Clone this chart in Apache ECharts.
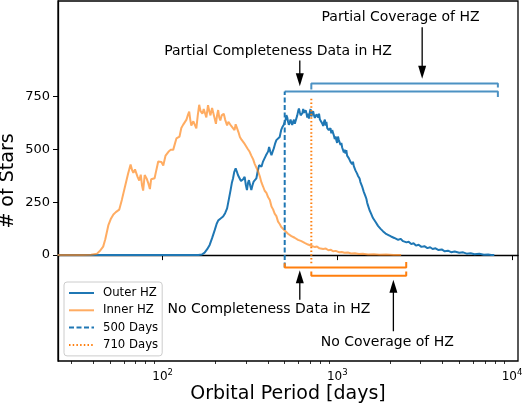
<!DOCTYPE html>
<html>
<head>
<meta charset="utf-8">
<script src="https://cdn.jsdelivr.net/npm/echarts@6/dist/echarts.min.js"></script>
<style>
  html, body { margin: 0; padding: 0; background: #fff; }
  #chart { width: 525px; height: 407px; }
</style>
</head>
<body>
<div id="chart"></div>
<script>
// habitable zone period distribution, [period in days, # of stars]
const outerHZ = [
  [25, 0], [50, 0], [100, 0], [150, 0], [160, 1], [168, 3], [174, 12], [180, 28], [186, 48],
  [192, 80], [199, 119], [204, 148], [208, 163], [214, 172], [222, 182], [228, 198], [234, 221],
  [240, 268], [245, 307], [249, 340], [253, 362], [257, 392], [262, 410], [266, 395], [270, 378],
  [274, 368], [277, 362], [281, 350], [286, 347], [290, 360], [295, 370], [299, 335], [304, 307],
  [308, 340], [312, 354], [317, 330], [322, 307], [327, 330], [332, 347], [338, 355], [344, 362],
  [350, 395], [357, 425], [362, 430], [368, 417], [375, 440], [384, 449], [390, 470], [396, 464],
  [402, 490], [407, 511], [413, 490], [420, 472], [427, 490], [433, 504], [440, 525], [448, 543],
  [457, 550], [468, 558], [477, 590], [485, 605], [493, 615], [500, 621], [506, 640], [511, 661],
  [517, 650], [522, 632], [528, 615], [534, 621], [540, 640], [546, 625], [552, 615], [558, 629],
  [565, 640], [571, 620], [577, 628], [583, 621], [590, 660], [597, 680], [603, 692], [610, 675],
  [617, 660], [624, 653], [631, 670], [638, 690], [645, 672], [652, 668], [659, 684], [666, 670],
  [673, 650], [680, 668], [688, 645], [695, 672], [703, 690], [711, 655], [719, 668], [727, 680],
  [736, 660], [744, 648], [752, 645], [760, 665], [769, 672], [778, 650], [786, 668], [795, 640],
  [804, 632], [812, 645], [821, 621], [830, 610], [840, 630], [849, 640], [858, 612], [866, 629],
  [876, 600], [885, 608], [894, 590], [904, 582], [914, 600], [924, 575], [935, 590], [945, 590],
  [956, 565], [967, 548], [978, 560], [987, 543], [998, 530], [1009, 560], [1020, 545], [1031, 551],
  [1043, 520], [1055, 530], [1066, 508], [1077, 504], [1090, 485], [1102, 498], [1114, 480],
  [1126, 496], [1138, 470], [1151, 478], [1163, 458], [1176, 457], [1190, 440], [1203, 448],
  [1215, 430], [1229, 441], [1243, 420], [1256, 415], [1270, 400], [1284, 402], [1298, 385],
  [1312, 375], [1326, 370], [1341, 362], [1356, 345], [1371, 340], [1386, 325], [1401, 323],
  [1416, 300], [1432, 295], [1452, 276], [1468, 265], [1480, 250], [1495, 237], [1510, 228],
  [1530, 212], [1545, 207], [1561, 196], [1580, 188], [1600, 175], [1631, 168], [1660, 155],
  [1690, 150], [1710, 138], [1740, 137], [1770, 124], [1800, 123], [1830, 112], [1861, 115],
  [1890, 102], [1920, 107], [1950, 96], [1985, 100], [2030, 88], [2080, 92], [2120, 81],
  [2170, 84], [2230, 72], [2300, 77], [2380, 66], [2420, 70], [2490, 60], [2560, 63], [2650, 52],
  [2730, 56], [2820, 45], [2920, 49], [3030, 39], [3150, 42], [3280, 33], [3400, 37], [3513, 29],
  [3650, 32], [3800, 24], [3960, 27], [4120, 18], [4300, 21], [4480, 14], [4700, 17], [4988, 11],
  [5250, 13], [5500, 7], [5800, 9], [6100, 4], [6500, 6], [6900, 2], [7300, 3], [7600, 1], [7920, 1]
];

const innerHZ = [
  [25, 0], [30, 0], [35, 1], [39, 2], [42, 6], [44, 22], [45.7, 40], [47, 75], [48.9, 140],
  [50.5, 170], [52.3, 192], [54, 203], [56.5, 215], [58.5, 262], [61, 325], [63.5, 385],
  [65.6, 428], [67, 400], [68, 388], [69.5, 405], [70.9, 398], [72, 368], [73.5, 352], [75, 380],
  [76.2, 330], [77.4, 305], [79, 378], [81, 362], [82.8, 340], [84.6, 312], [86, 358], [88, 362],
  [90, 363], [92, 400], [94.4, 442], [96.5, 448], [98.5, 440], [100.9, 423], [104, 470],
  [108, 488], [111, 497], [115, 497], [118, 530], [120, 551], [125, 560], [128, 600], [131, 615],
  [134, 612], [137, 640], [140, 665], [142, 678], [144, 640], [146, 612], [150, 632], [153, 628],
  [156, 598], [159, 660], [162, 710], [165, 680], [169, 668], [172, 690], [174, 684], [178, 650],
  [182, 708], [185, 680], [188, 660], [192, 695], [195, 690], [198, 650], [202, 620], [205, 660],
  [208, 685], [211, 650], [214, 636], [218, 660], [224, 668], [228, 640], [234, 612], [238, 630],
  [242, 637], [247, 610], [253, 604], [258, 590], [262, 618], [267, 620], [272, 580], [277, 558],
  [283, 545], [289, 540], [295, 525], [302, 518], [308, 500], [315, 488], [322, 470], [330, 452],
  [337, 430], [344, 426], [352, 396], [360, 372], [368, 343], [376, 324], [384, 304], [393, 294],
  [402, 273], [411, 260], [420, 230], [429, 216], [438, 196], [448, 184], [458, 158], [468, 147],
  [478, 133], [489, 129], [500, 116], [511, 112], [522, 101], [534, 98], [546, 90], [558, 89],
  [570, 82], [583, 80], [596, 72], [610, 76], [623, 66], [637, 64], [650, 58], [664, 60],
  [680, 50], [695, 53], [710, 44], [725, 47], [745, 38], [765, 41], [790, 32], [810, 35],
  [830, 29], [860, 31], [890, 23], [920, 25], [945, 18], [980, 20], [1020, 14], [1060, 15],
  [1100, 11], [1150, 12], [1200, 8], [1260, 9], [1330, 5], [1400, 6], [1500, 3], [1620, 4],
  [1740, 2], [1900, 3], [2100, 1], [2320, 1]
];

// vertical markers: [period, bottom, top]
const days500 = [500, -58, 773];
const days710 = [710, -38, 747];

// bracket outlines, [period, # of stars]
const bracketBlueLow = [[500, 773], [8300, 773], [8300, 747]];
const bracketBlueHigh = [[710, 782], [710, 810], [8300, 810], [8300, 791]];
const bracketOrangeHigh = [[500, -38], [500, -58], [2480, -58], [2480, -33]];
const bracketOrangeLow = [[710, -77], [710, -97], [2480, -97], [2480, -77]];

// annotation texts and arrows: [period, y]
const noteLabels = ['Partial Coverage of HZ', 'Partial Completeness Data in HZ',
  'No Completeness Data in HZ', 'No Coverage of HZ'];
const notePos = [[2302, 1123], [458, 962], [406, -258], [1932, -414]];
// [period, tail, tip]
const arrows = [[610, 919, 797], [3060, 1076, 833], [610, -211, -72], [2094, -360, -116]];

const yTicks = [0, 250, 500, 750];
const xTicks = [2, 3, 4];

const FONT = 'DejaVu Sans';
const BLUE = '#1f77b4';
const ORANGE = '#ff7f0e';
const lg = (v) => Math.log10(v);
const toXY = (pts) => pts.map((p) => [lg(p[0]), p[1]]);

const xMin = lg(25.2);
const xMax = lg(10820);

// minor log ticks
const minorTicks = [];
for (let e = 1; e <= 3; e++) {
  for (let k = 2; k <= 9; k++) {
    const v = lg(k * Math.pow(10, e));
    if (v > xMin && v < xMax) minorTicks.push(v);
  }
}

const sup = { 2: '2', 3: '3', 4: '4' };

const chart = echarts.init(document.getElementById('chart'));

const lineSeries = (name, pts, color, width, type) => ({
  name: name,
  type: 'line',
  data: toXY(pts),
  symbol: 'none',
  silent: true,
  lineStyle: { color: color, width: width, type: type || 'solid' },
  itemStyle: { color: color },
});

const arrowSeries = [];
arrows.forEach((a) => {
  const down = a[2] < a[1];
  const shaftEnd = down ? a[2] + 40 : a[2] - 40;
  arrowSeries.push(lineSeries('arrow', [[a[0], a[1]], [a[0], shaftEnd]], '#000', 1.3));
  arrowSeries.push({
    type: 'scatter',
    silent: true,
    data: [[lg(a[0]), a[2]]],
    symbol: down ? 'path://M0,0L8,0L4,13Z' : 'path://M4,0L8,13L0,13Z',
    symbolSize: [8, 13],
    symbolOffset: [0, down ? '-50%' : '50%'],
    itemStyle: { color: '#000', opacity: 1 },
  });
});

const option = {
  animation: false,
  grid: {
    left: 58, right: 7, top: 1, bottom: 46,
    outerBoundsMode: 'none',
    containLabel: false,
    show: true, borderColor: '#000', borderWidth: 1.3,
  },
  legend: {
    data: ['Outer HZ', 'Inner HZ', '500 Days', '710 Days'],
    orient: 'vertical',
    left: 64,
    top: 282,
    itemWidth: 25,
    itemHeight: 10,
    itemGap: 3.3,
    padding: [4, 4, 4, 4],
    borderColor: '#cccccc',
    borderWidth: 1,
    borderRadius: 3,
    backgroundColor: 'rgba(255,255,255,0.8)',
    itemStyle: { opacity: 0 },
    textStyle: { fontFamily: FONT, fontSize: 11.7, color: '#000', lineHeight: 14, padding: [0, 0, 0, 4] },
  },
  xAxis: [
    {
      type: 'value',
      min: xMin,
      max: xMax,
      name: 'Orbital Period [days]',
      nameLocation: 'middle',
      nameGap: 24,
      nameMoveOverlap: false,
      nameTextStyle: { fontFamily: FONT, fontSize: 19, color: '#000', verticalAlign: 'top' },
      axisLine: { show: true, lineStyle: { color: '#000', width: 1.3 } },
      axisTick: { show: true, customValues: xTicks, length: 5, lineStyle: { color: '#000', width: 1 } },
      axisLabel: {
        customValues: xTicks,
        margin: 7,
        formatter: (v) => '{b|10}{s|' + sup[Math.round(v)] + '}',
        rich: {
          b: { fontFamily: FONT, fontSize: 12, color: '#000', lineHeight: 18 },
          s: { fontFamily: FONT, fontSize: 8.5, color: '#000', lineHeight: 7, verticalAlign: 'top' },
        },
      },
      splitLine: { show: false },
    },
    {
      type: 'value',
      min: xMin,
      max: xMax,
      position: 'bottom',
      axisLine: { show: false },
      axisTick: { show: true, customValues: minorTicks, length: 3, lineStyle: { color: '#000', width: 0.8 } },
      axisLabel: { show: false },
      splitLine: { show: false },
    },
  ],
  yAxis: {
    type: 'value',
    min: -500,
    max: 1200,
    name: '# of Stars',
    nameLocation: 'middle',
    nameGap: 40,
    nameMoveOverlap: false,
    nameTextStyle: { fontFamily: FONT, fontSize: 19, color: '#000' },
    axisLine: { show: true, lineStyle: { color: '#000', width: 1.3 } },
    axisTick: { show: true, customValues: yTicks, length: 5, lineStyle: { color: '#000', width: 1 } },
    axisLabel: { customValues: yTicks, margin: 8, fontFamily: FONT, fontSize: 13, color: '#000' },
    splitLine: { show: false },
  },
  series: [
    lineSeries('Outer HZ', outerHZ, BLUE, 2),
    lineSeries('Inner HZ', innerHZ, 'rgba(255,127,14,0.65)', 2),
    lineSeries('500 Days', [[days500[0], days500[1]], [days500[0], days500[2]]], BLUE, 2, [5, 2.5]),
    lineSeries('710 Days', [[days710[0], days710[1]], [days710[0], days710[2]]], ORANGE, 2, [1.5, 2.2]),
    lineSeries('bracket', bracketBlueLow, 'rgba(31,119,180,0.8)', 2),
    lineSeries('bracket', bracketBlueHigh, 'rgba(31,119,180,0.8)', 2),
    lineSeries('bracket', bracketOrangeHigh, ORANGE, 2),
    lineSeries('bracket', bracketOrangeLow, ORANGE, 2),
    ...arrowSeries,
    {
      type: 'scatter',
      silent: true,
      symbolSize: 0,
      itemStyle: { opacity: 1 },
      data: notePos.map((p, i) => ({ name: noteLabels[i], value: [lg(p[0]), p[1]] })),
      label: {
        show: true,
        position: [0, 0],
        align: 'center',
        verticalAlign: 'middle',
        formatter: '{b}',
        fontFamily: FONT,
        fontSize: 14,
        color: '#000',
        opacity: 1,
        textBorderWidth: 0,
      },
    },
  ],
};

chart.setOption(option);
</script>
</body>
</html>
